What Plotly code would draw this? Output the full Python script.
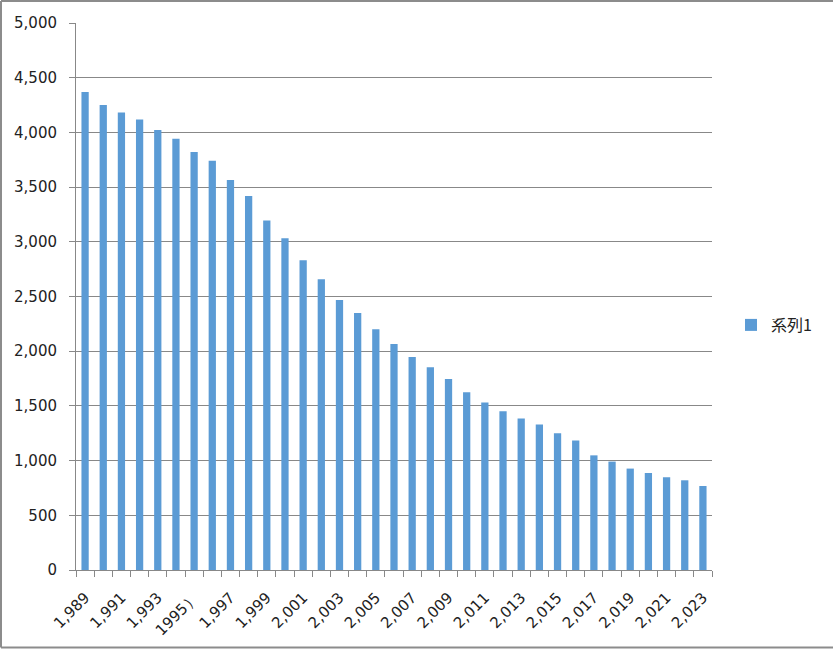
import plotly.graph_objects as go

years = list(range(1989, 2024))
values = [4370, 4250, 4181, 4117, 4022, 3943, 3821, 3742, 3565, 3419,
          3194, 3032, 2831, 2657, 2468, 2349, 2200, 2066, 1947, 1853,
          1746, 1624, 1530, 1451, 1384, 1329, 1250, 1183, 1048, 991,
          927, 887, 847, 820, 768]
tick_years = list(range(1989, 2024, 2))
tick_labels = ["1,989", "1,991", "1,993", "1995）", "1,997", "1,999", "2,001",
               "2,003", "2,005", "2,007", "2,009", "2,011", "2,013", "2,015",
               "2,017", "2,019", "2,021", "2,023"]
y_ticks = [0, 500, 1000, 1500, 2000, 2500, 3000, 3500, 4000, 4500, 5000]
y_labels = ["0", "500", "1,000", "1,500", "2,000", "2,500", "3,000",
            "3,500", "4,000", "4,500", "5,000"]
series_name = "系列1"

W, H = 840, 649
L, R, T, B = 76, 128, 23, 79
pw, ph = W - L - R, H - T - B

fig = go.Figure()
fig.add_trace(go.Bar(x=years, y=values, name=series_name,
                     marker=dict(color="#5B9BD5", line=dict(width=0)),
                     width=0.4, showlegend=True))

grid = "#888888"
fig.update_layout(
    width=W, height=H,
    margin=dict(l=L, r=R, t=T, b=B, pad=0, autoexpand=False),
    paper_bgcolor="white", plot_bgcolor="white",
    font=dict(family="DejaVu Sans, Verdana, sans-serif", size=15, color="#222222"),
    showlegend=True,
    legend=dict(x=(731 - L) / pw, y=(H - 325 - B) / ph, xanchor="left", yanchor="middle",
                font=dict(family="Noto Sans CJK JP, sans-serif", size=16, color="#222222"),
                itemwidth=30, bgcolor="rgba(0,0,0,0)"),
    xaxis=dict(range=[1988.5, 2023.5], tickmode="array", tickvals=tick_years,
               ticktext=tick_labels, tickangle=-45, ticks="", ticklen=0, automargin=False,
               ticklabelstandoff=12,
               showgrid=False, zeroline=False, showline=True, linecolor=grid, linewidth=1,
               minor=dict(tick0=1988.5, dtick=1, ticks="outside", ticklen=6,
                          tickcolor=grid, showgrid=False),
               tickfont=dict(size=15)),
    yaxis=dict(range=[0, 5000], tickmode="array", tickvals=y_ticks, ticktext=y_labels,
               automargin=False, ticklabelstandoff=9,
               showgrid=True, gridcolor=grid, gridwidth=1, zeroline=False,
               showline=True, linecolor=grid, linewidth=1,
               ticks="outside", ticklen=6, tickcolor=grid,
               tickfont=dict(size=15)),
    bargap=0.6,
)

# outer chart frame (top, left, bottom)
bx0 = (1 - L) / pw
bx1 = (833 - L) / pw
by_top = (H - B - 1) / ph
by_bot = -(B - 1.5) / ph
for x0, y0, x1, y1 in [(bx0, by_top, bx1, by_top), (bx0, by_bot, bx0, by_top), (bx0, by_bot, bx1, by_bot)]:
    fig.add_shape(type="line", xref="paper", yref="paper", x0=x0, y0=y0, x1=x1, y1=y1,
                  line=dict(color="#8c8c8c", width=2))

fig.write_html("out.html", config={"displayModeBar": False},
               post_script="document.body.style.margin='0';document.body.style.padding='0';")
